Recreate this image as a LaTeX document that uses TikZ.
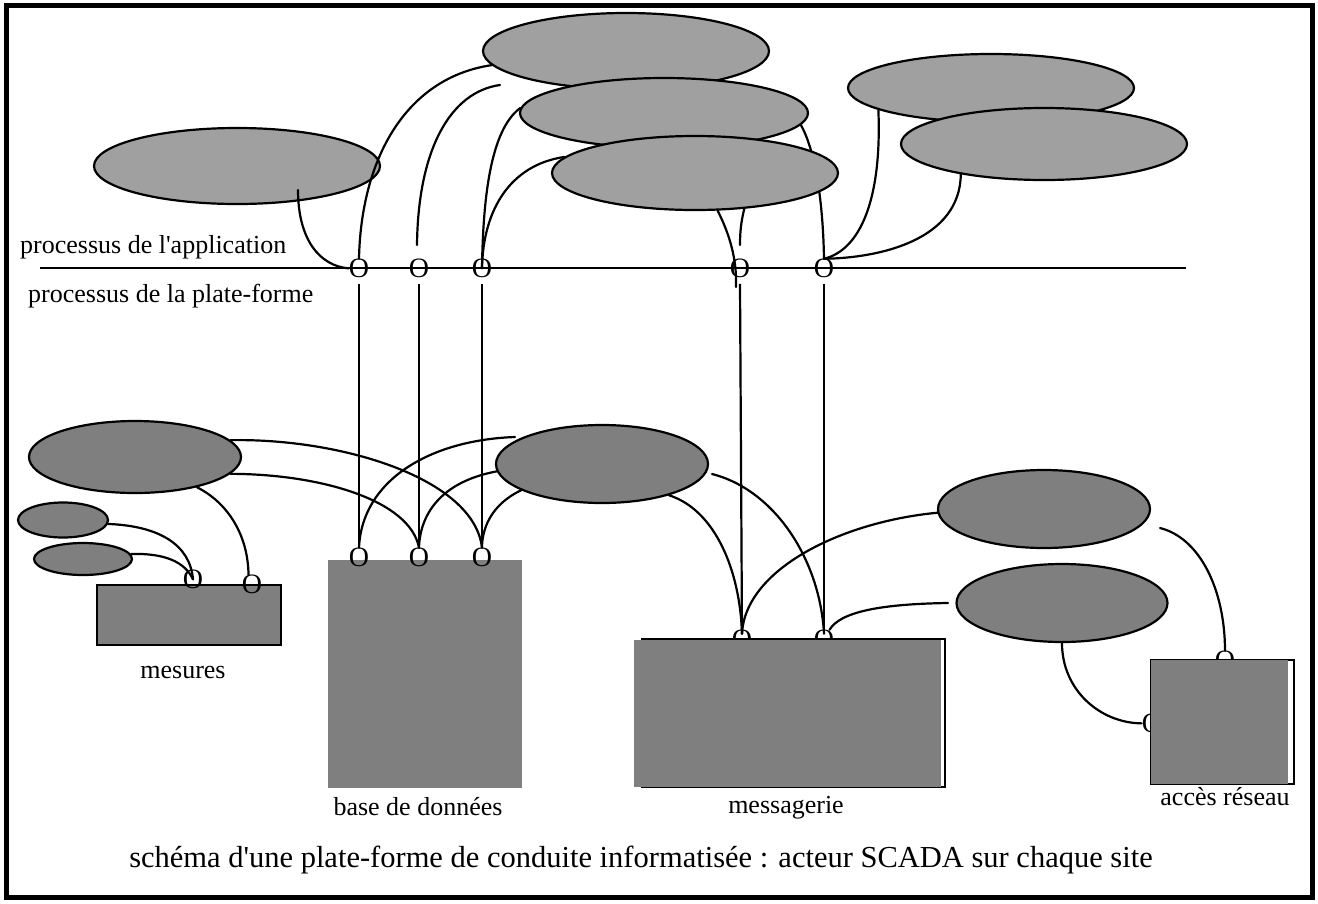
\documentclass[tikz,border=0pt]{standalone}
\usepackage{fontspec}
\setmainfont{Liberation Serif}[Ligatures=TeXOff]
\usetikzlibrary{shapes.geometric}
\definecolor{lgray}{RGB}{160,160,160}
\definecolor{mgray}{RGB}{127,127,127}
\newcommand{\Lf}{\fontsize{26}{30}\selectfont}
\newcommand{\Of}{\fontsize{28}{32}\selectfont}
\newcommand{\Cf}{\fontsize{30.5}{36}\selectfont}
\tikzset{
  topell/.style={ellipse, draw=black, fill=lgray, line width=2.2pt, inner sep=0pt},
  botell/.style={ellipse, draw=black, fill=mgray, line width=2.2pt, inner sep=0pt},
  conn/.style={line width=2.2pt, line cap=round},
  omark/.style={font=\Of, inner sep=0pt, anchor=base},
  lbl/.style={font=\Lf, inner sep=0pt, anchor=base},
  graybox/.style={rectangle, fill=mgray, inner sep=0pt},
}
\begin{document}
\begin{tikzpicture}[x=1pt,y=-1pt]
\useasboundingbox (0,0) rectangle (1318,903);
\fill[white] (0,0) rectangle (1318,903);
\draw[line width=5pt] (6,5.5) rectangle (1312,897);

% labels of the levels
\node[lbl, anchor=base west] (lapp) at (20,253) {processus de l'application};
\node[lbl, anchor=base west] (lplat) at (28,302) {processus de la plate-forme};
\coordinate (hl1) at (40,268);
\coordinate (hl2) at (1186,268);
\draw[line width=2.2pt] (hl1) -- (hl2);

% top ellipses
\node[topell, minimum width=286pt, minimum height=76pt] (E1) at (237,166) {};
\node[topell, minimum width=286pt, minimum height=76pt] (E2) at (626,51) {};
\node[topell, minimum width=288pt, minimum height=70pt] (E3) at (664,113) {};

% O marks on the line
\node[omark] (o1) at (359,277.5) {O};
\node[omark] (o2) at (419,277.5) {O};
\node[omark] (o3) at (482,277.5) {O};
\node[omark] (o4) at (740,277.5) {O};
\node[omark] (o5) at (824,277.5) {O};

\coordinate (c1) at (298,190);
\coordinate (c3) at (500,85);
\coordinate (c3e) at (417,245);
\draw[conn] (c1) .. controls (298,240) and (320,266) .. (o1.west);
\draw[conn] (E2.186) .. controls (405,78) and (361,160) .. (o1.north);
\draw[conn] (c3) .. controls (450,92) and (418,150) .. (c3e);
\draw[conn] (E3.178) .. controls (490,130) and (483,200) .. (o3.center);
\draw[conn] (E3.-5) .. controls (815,150) and (823,200) .. (o5.north);

\node[topell, minimum width=286pt, minimum height=74pt] (E4) at (695,173) {};
\coordinate (c6) at (736,287);
\coordinate (c7) at (740,245);
\draw[conn] (E4.173) .. controls (510,165) and (483,210) .. (o3.center);
\draw[conn] (E4.-59) .. controls (730,235) and (737,260) .. (c6);
\draw[conn] (E4.-36) .. controls (741,222) and (740,232) .. (c7);

\node[topell, minimum width=286pt, minimum height=68pt] (E5) at (991,88) {};
\node[topell, minimum width=286pt, minimum height=72pt] (E6) at (1044,144) {};
\draw[conn] (E5.-169) .. controls (882,200) and (860,250) .. (o5.north);
\draw[conn] (E6.-160) .. controls (960,240) and (880,258) .. (o5.north);

% platform boxes
\node[rectangle, draw=black, fill=mgray, line width=2.2pt, inner sep=0pt,
      minimum width=184pt, minimum height=60pt] (mes) at (189,615) {};
\node[graybox, minimum width=194pt, minimum height=228pt] (db) at (425,674) {};

% O marks on the boxes
\node[omark] (m1) at (193,588.5) {O};
\node[omark] (m2) at (252,593.5) {O};
\node[omark] (d1) at (359,566.5) {O};
\node[omark] (d2) at (419,566.5) {O};
\node[omark] (d3) at (482,566.5) {O};
\node[omark] (g1) at (742,648.5) {O};
\node[omark] (g2) at (824,648.5) {O};
\node[omark] (a1) at (1225,669.5) {O};
\node[omark] (a2) at (1152,732.5) {O};

% messagerie and acces reseau (cover lower half of their O marks)
\node[rectangle, draw=black, fill=white, line width=2.2pt, inner sep=0pt,
      minimum width=303pt, minimum height=148pt] (msgb) at (793.5,713) {};
\node[graybox, minimum width=307pt, minimum height=147pt] (msg) at (787.5,713.5) {};
\node[rectangle, draw=black, fill=white, line width=2.2pt, inner sep=0pt,
      minimum width=143pt, minimum height=124pt] (accb) at (1222.5,722) {};
\node[graybox, minimum width=137pt, minimum height=124pt] (acc) at (1219.5,722) {};

% vertical links
\draw[line width=2.2pt] ([yshift=-6pt]o1.south) -- (d1.north);
\draw[line width=2.2pt] ([yshift=-6pt]o2.south) -- (d2.north);
\draw[line width=2.2pt] ([yshift=-6pt]o3.south) -- (d3.north);
\draw[line width=2.2pt] ([yshift=-6pt]o4.south) -- ([yshift=-4pt]g1.north);
\draw[line width=2.2pt] ([yshift=-6pt]o5.south) -- ([yshift=-4pt]g2.north);

% lower ellipses
\node[botell, minimum width=212pt, minimum height=72pt] (L1) at (135,457) {};
\node[botell, minimum width=90pt, minimum height=35pt] (S1) at (63,520) {};
\node[botell, minimum width=98pt, minimum height=32pt] (S2) at (83,559) {};
\node[botell, minimum width=212pt, minimum height=78pt] (M) at (602,464) {};
\node[botell, minimum width=212pt, minimum height=78pt] (R1) at (1044,509) {};
\node[botell, minimum width=211pt, minimum height=78pt] (R2) at (1062,603) {};

\coordinate (cM) at (515,437);
\coordinate (cMr) at (712,474);
\coordinate (cR1) at (1160,528);
\coordinate (cR2) at (948,603);

\draw[conn] (S1.-5) .. controls (160,526) and (190,545) .. (m1.center);
\draw[conn] (S2.6) .. controls (165,553) and (185,562) .. (m1.center);
\draw[conn] (L1.-26) .. controls (228,503) and (248,535) .. (m2.110);
\draw[conn] (L1.10) .. controls (340,438) and (474,478) .. (d3.north);
\draw[conn] (L1.-10) .. controls (320,474) and (410,500) .. (d2.north);
\draw[conn] (cM) .. controls (430,440) and (362,480) .. (d1.north);
\draw[conn] (M.184) .. controls (440,482) and (420,515) .. (d2.north);
\draw[conn] (M.198) .. controls (490,505) and (482,530) .. (d3.north);
\draw[conn] (M.-25) .. controls (715,510) and (740,570) .. ([yshift=-4pt]g1.north);
\draw[conn] (cMr) .. controls (775,490) and (820,560) .. ([yshift=-4pt]g2.north);
\draw[conn] (R1.182) .. controls (840,522) and (745,570) .. ([yshift=-4pt]g1.north);
\draw[conn] (cR2) .. controls (880,604) and (840,612) .. (g2.60);
\draw[conn] (cR1) .. controls (1200,538) and (1225,590) .. (a1.north);
\draw[conn] (R2.-90) .. controls (1062,690) and (1100,723) .. (a2.west);

% box labels
\node[lbl] (tmes) at (183,678) {mesures};
\node[lbl] (tdb) at (418,815) {base de donn\'ees};
\node[lbl] (tmsg) at (786,813) {messagerie};
\node[lbl] (tacc) at (1225,805) {acc\`es r\'eseau};

\node[font=\Cf, inner sep=0pt, anchor=base] (cap) at (641,867)
  {sch\'ema d'une plate-forme de conduite informatis\'ee : acteur SCADA sur chaque site};
\end{tikzpicture}
\end{document}
